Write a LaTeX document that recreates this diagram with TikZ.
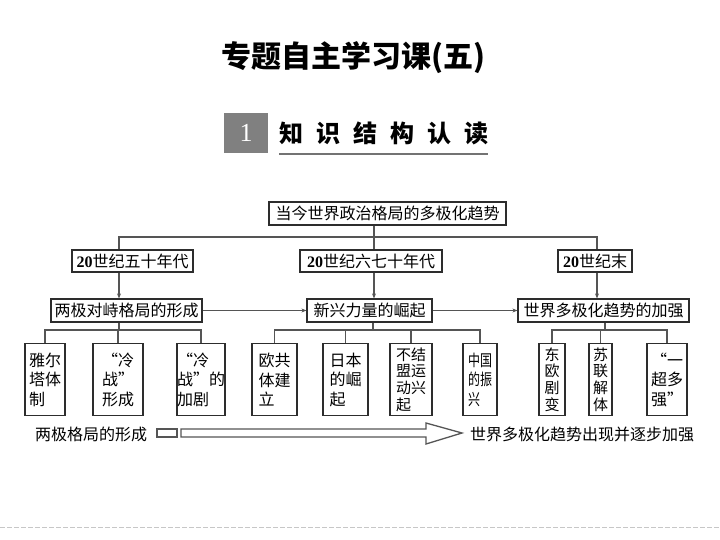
\documentclass[tikz,border=0pt]{standalone}
\usepackage{fontspec}
\setmainfont{Noto Sans CJK SC}
\newfontfamily\latf{Liberation Serif}
\newcommand\numf{\latf\bfseries}
\usetikzlibrary{arrows.meta}
\definecolor{boxgray}{RGB}{128,128,128}
\definecolor{lngray}{RGB}{85,85,85}
\definecolor{bdgray}{RGB}{45,45,45}
\begin{document}
\begin{tikzpicture}[x=1pt,y=-1pt,
  bx/.style={draw=bdgray, line width=1.2pt, inner sep=0pt, minimum height=23pt, font=\fontsize{16}{18}\selectfont},
  sb/.style={draw=bdgray, line width=1.2pt, inner sep=0pt, minimum height=72pt, anchor=north, align=left, font=\fontsize{16}{19.5}\selectfont},
  sb4/.style={sb, font=\fontsize{15}{16.8}\selectfont},
  ln/.style={draw=lngray, line width=1.2pt},
  ar/.style={ln, -{Stealth[length=5pt,width=4pt]}}]
\useasboundingbox (0,0) rectangle (720,540);

% header
\node (title) at (353,58) {\fontsize{30}{30}\selectfont\bfseries 专题自主学习课({五})};
\node[fill=boxgray, minimum width=44pt, minimum height=40pt, inner sep=0pt, text=white,
      font=\latf\fontsize{26}{26}\selectfont] (n1) at (246,133) {1};
\node[inner sep=0pt, font=\fontsize{24}{24}\selectfont\bfseries] (head) at (384,133)
  {知\hspace{13pt}识\hspace{13pt}结\hspace{13pt}构\hspace{13pt}认\hspace{13pt}读};
\coordinate (ul1) at (279,154);
\coordinate (ul2) at (488,154);
\draw[draw=black!55, line width=1.6pt] (ul1) -- (ul2);

% level 1 and 2
\node[bx, minimum width=237pt] (top) at (387.5,213.5) {当今世界政治格局的多极化趋势};
\node[bx, minimum width=121pt, minimum height=22pt] (a1) at (132.5,261) {{\numf 20}世纪五十年代};
\node[bx, minimum width=142pt, minimum height=22pt] (a2) at (371,261) {{\numf 20}世纪六七十年代};
\node[bx, minimum width=74pt, minimum height=22pt] (a3) at (595,261) {{\numf 20}世纪末};

% level 3
\node[bx, minimum width=151pt] (b1) at (126.5,310.5) {两极对峙格局的形成};
\node[bx, minimum width=125pt] (b2) at (369.5,310.5) {新兴力量的崛起};
\node[bx, minimum width=171pt] (b3) at (603.5,310.5) {世界多极化趋势的加强};

% level 4
\node[sb, minimum width=40pt] (c1) at (45,343) {雅尔\\塔体\\制};
\node[sb, minimum width=50pt] (c2) at (118,343) {“冷\\战”\\形成};
\node[sb, minimum width=48pt] (c3) at (201,343) {“冷\\战”的\\加剧};
\node[sb, minimum width=45pt] (c4) at (274.5,343) {欧共\\体建\\立};
\node[sb, minimum width=45pt] (c5) at (345.5,343) {日本\\的崛\\起};
\node[sb4, minimum width=42pt] (c6) at (411,343) {不结\\盟运\\动兴\\起};
\node[sb, minimum width=34pt] (c7) at (480,343) {\scalebox{0.75}[1]{中国}\\\scalebox{0.75}[1]{的振}\\\scalebox{0.75}[1]{兴}};
\node[sb4, minimum width=26pt] (c8) at (552,343) {东\\欧\\剧\\变};
\node[sb4, minimum width=23pt] (c9) at (600.5,343) {苏\\联\\解\\体};
\node[sb, minimum width=40pt] (c10) at (667,343) {“一\\超多\\强”};

% connectors
\coordinate (h1) at (119,237);
\coordinate (j0) at (374,237);
\coordinate (h3) at (597,237);
\draw[ln] (a1.north -| h1) |- (h3) -- (a3.north -| h3);
\draw[ln] (top.south -| j0) -- (a2.north -| j0);
\draw[ar] (a1.south -| h1) -- (b1.north -| h1);
\draw[ar] (a2.south -| j0) -- (b2.north -| j0);
\draw[ar] (a3.south -| h3) -- (b3.north -| h3);
\draw[ar] (b1) -- (b2);
\draw[ar] (b2) -- (b3);

\coordinate (k1) at (119,330);
\coordinate (k2) at (373,330);
\coordinate (k3) at (605,330);
\draw[ln] (b1.south -| k1) -- (k1);
\draw[ln] (c1.north) -- (c1.north |- k1) -- (c3.north |- k1) -- (c3.north);
\draw[ln] (c2.north) -- (c2.north |- k1);
\draw[ln] (b2.south -| k2) -- (k2);
\draw[ln] (c4.north) -- (c4.north |- k2) -- (c7.north |- k2) -- (c7.north);
\draw[ln] (c5.north) -- (c5.north |- k2);
\draw[ln] (c6.north) -- (c6.north |- k2);
\draw[ln] (b3.south -| k3) -- (k3);
\draw[ln] (c8.north) -- (c8.north |- k3) -- (c10.north |- k3) -- (c10.north);
\draw[ln] (c9.north) -- (c9.north |- k3);

% bottom timeline
\node[font=\fontsize{16}{18}\selectfont] (bl) at (91,434) {两极格局的形成};
\node[font=\fontsize{16}{18}\selectfont] (br) at (582,434) {世界多极化趋势出现并逐步加强};
\draw[ln, line width=1.3pt] (157,429) rectangle (177,437);
\draw[ln, line width=1.3pt, fill=white] (181,429) -- (426,429) -- (426,423) -- (462,433) -- (426,444) -- (426,437) -- (181,437) -- cycle;

% footer dashed line
\draw[draw=black!22, line width=0.8pt, dash pattern=on 5pt off 2pt] (0,527) -- (720,527);
\end{tikzpicture}
\end{document}
